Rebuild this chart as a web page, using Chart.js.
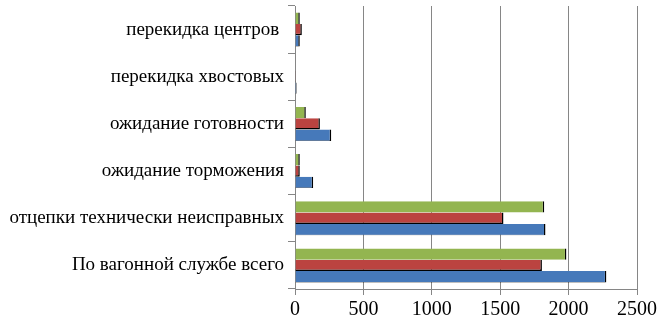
<!DOCTYPE html>
<html>
<head>
<meta charset="utf-8">
<script src="https://cdn.jsdelivr.net/npm/chart.js@4/dist/chart.umd.min.js"></script>
<style>
html,body{margin:0;padding:0;background:#fff;}
#wrap{width:670px;height:326px;position:relative;}
</style>
</head>
<body>
<div id="wrap"><canvas id="c" width="670" height="326"></canvas></div>
<script>
const categories = ["перекидка центров ", "перекидка хвостовых", "ожидание готовности", "ожидание торможения", "отцепки технически неисправных", "По вагонной службе всего"];
const seriesBlue  = [35, 12, 265, 133, 1831, 2276];
const seriesRed   = [50, 6, 182, 35, 1524, 1805];
const seriesGreen = [35, 0, 79, 35, 1822, 1984];
const xTicks = [0, 500, 1000, 1500, 2000, 2500];

function grad(c1, c2, c3) {
  return function(ctx) {
    const el = ctx.element;
    const chart = ctx.chart;
    if (!el || el.height === undefined || !isFinite(el.y)) return c2;
    const h = el.height;
    const y0 = el.y - h / 2, y1 = el.y + h / 2;
    const g = chart.ctx.createLinearGradient(0, y0, 0, y1);
    g.addColorStop(0, c1);
    g.addColorStop(0.5, c2);
    g.addColorStop(1, c3);
    return g;
  };
}

const serif = "'Liberation Serif', 'Times New Roman', serif";

new Chart(document.getElementById('c'), {
  type: 'bar',
  data: {
    labels: categories,
    datasets: [
      {label: 'green', data: seriesGreen, backgroundColor: grad('#a6c663', '#93b550', '#76973a'), borderColor: '#000', borderWidth: {top:0,left:0,right:1.5,bottom:0}, borderSkipped: false},
      {label: 'red', data: seriesRed, backgroundColor: grad('#cc5552', '#bb4340', '#9a3230'), borderColor: '#000', borderWidth: {top:0,left:0,right:1.5,bottom:1.5}, borderSkipped: false},
      {label: 'blue', data: seriesBlue, backgroundColor: grad('#5089cb', '#4679ba', '#34649f'), borderColor: '#000', borderWidth: {top:0,left:0,right:1.5,bottom:0.5}, borderSkipped: false}
    ]
  },
  options: {
    indexAxis: 'y',
    responsive: false,
    animation: false,
    devicePixelRatio: 1,
    layout: {padding: {top: 6, right: 33, left: 0, bottom: 0}},
    plugins: {legend: {display: false}, tooltip: {enabled: false}},
    datasets: {bar: {categoryPercentage: 0.72, barPercentage: 1.0}},
    scales: {
      x: {
        min: 0, max: 2500,
        afterBuildTicks: (s) => { s.ticks = xTicks.map(v => ({value: v})); },
        grid: {color: '#868686', lineWidth: 1, tickLength: 6, drawTicks: true},
        border: {color: '#868686', width: 1},
        ticks: {font: {family: serif, size: 20}, color: '#000', padding: 3, maxRotation: 0, autoSkip: false,
                callback: (v) => String(v)},
        afterFit: (s) => { s.height = 37; s.paddingLeft = 0; s.paddingRight = 0; }
      },
      y: {
        grid: {drawOnChartArea: false, offset: true, color: '#868686', tickLength: 7},
        border: {color: '#868686', width: 1},
        ticks: {font: {family: serif, size: 19}, color: '#000', padding: 4, autoSkip: false},
        afterFit: (s) => { s.width = 295; s.paddingTop = 0; s.paddingBottom = 0; }
      }
    }
  }
});
</script>
</body>
</html>
